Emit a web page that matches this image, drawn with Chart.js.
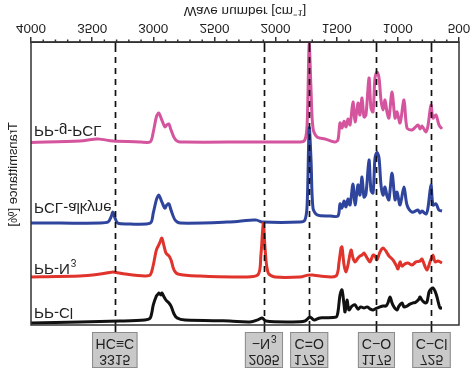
<!DOCTYPE html>
<html>
<head>
<meta charset="utf-8">
<script src="https://cdn.jsdelivr.net/npm/chart.js@4.4.1/dist/chart.umd.min.js"></script>
<style>
html, body { margin: 0; padding: 0; background: #fff; }
/* the reference picture is mirrored top to bottom */
#chart { display: block; transform: scaleY(-1); }
</style>
</head>
<body>
<canvas id="chart" width="474" height="372"></canvas>
<script>
// [wave number, transmittance + offset]
const ppCl = [
  [4000,99.3],[3600,98.9],[3275,98.6],[3070,98.2],[3025,97.5],[3000,92.9],[2975,89.8],[2960,89.0],
  [2953,88.7],[2937,89.4],[2929,88.7],[2912,90.1],[2896,91.2],[2872,92.2],[2855,93.3],[2830,96.1],
  [2806,97.5],[2740,98.2],[2375,98.6],[2210,98.9],[2145,98.2],[2110,97.5],[2078,98.6],[1882,98.9],
  [1760,98.6],[1720,97.2],[1685,98.2],[1637,97.5],[1506,97.2],[1490,95.4],[1473,89.4],[1457,87.6],
  [1440,92.9],[1432,95.4],[1416,91.2],[1400,94.7],[1375,93.3],[1350,92.9],[1326,94.4],[1302,93.6],
  [1277,94.0],[1252,93.6],[1228,94.3],[1203,94.7],[1171,94.0],[1146,93.6],[1121,93.3],[1097,93.3],
  [1081,92.2],[1064,90.1],[1048,92.2],[1032,93.6],[1007,94.7],[991,93.3],[966,92.2],[950,93.6],
  [925,93.3],[901,92.6],[876,92.2],[852,91.9],[827,90.8],[819,90.1],[803,91.2],[778,92.2],
  [762,91.9],[745,88.3],[729,87.3],[713,86.9],[696,88.0],[680,90.1],[664,92.9],[655,94.0],[639,94.0]
];
const ppN3 = [
  [4000,83.0],[3600,82.7],[3435,82.0],[3330,81.3],[3230,82.0],[3070,82.7],[3025,82.3],[3000,78.8],
  [2975,73.5],[2960,72.1],[2945,70.7],[2930,69.3],[2912,72.1],[2896,74.6],[2872,75.6],[2855,77.0],
  [2830,80.6],[2798,82.0],[2620,82.7],[2290,83.0],[2145,82.3],[2120,75.3],[2100,64.0],[2085,73.5],
  [2060,81.6],[2005,83.0],[1800,83.0],[1720,82.3],[1637,82.7],[1506,82.7],[1481,77.7],[1465,72.8],
  [1457,72.4],[1440,78.8],[1424,81.3],[1408,78.8],[1383,73.5],[1367,76.3],[1350,77.7],[1326,76.3],
  [1310,75.6],[1293,75.3],[1277,74.6],[1252,76.3],[1228,77.7],[1203,75.3],[1187,75.6],[1171,77.0],
  [1146,74.2],[1121,72.8],[1097,73.9],[1073,75.6],[1040,77.0],[1015,78.8],[999,80.2],[982,77.7],
  [966,79.2],[942,78.4],[917,78.1],[884,78.8],[852,77.7],[819,77.4],[803,76.7],[786,78.4],
  [762,80.6],[737,77.7],[713,75.3],[696,77.7],[672,77.4],[639,78.1]
];
const pclAlkyne = [
  [4000,64.0],[3760,64.0],[3435,64.0],[3370,63.6],[3345,61.8],[3330,60.1],[3313,62.2],[3290,64.0],
  [3205,64.3],[3025,64.0],[3000,60.4],[2975,55.8],[2955,54.1],[2930,56.5],[2905,58.7],[2890,57.6],
  [2872,57.2],[2855,59.4],[2822,62.9],[2780,64.0],[2375,63.6],[2160,62.9],[2110,63.6],[1800,63.6],
  [1760,62.9],[1742,57.6],[1725,30.4],[1710,41.7],[1694,58.7],[1660,61.1],[1555,61.5],[1490,61.5],
  [1473,57.2],[1457,58.7],[1440,56.2],[1424,58.3],[1408,55.5],[1391,57.6],[1367,50.2],[1350,57.6],
  [1326,50.5],[1310,54.1],[1293,47.7],[1277,54.8],[1261,53.7],[1236,41.7],[1220,52.3],[1203,53.4],
  [1187,41.0],[1171,38.9],[1154,41.0],[1138,50.5],[1121,54.1],[1105,51.2],[1089,54.4],[1073,55.8],
  [1048,46.3],[1023,55.8],[1007,53.0],[982,57.6],[950,51.2],[925,57.6],[884,60.1],[835,59.4],
  [819,60.4],[803,59.7],[770,60.8],[754,58.7],[729,50.5],[713,57.6],[688,57.2],[664,59.4],[639,59.7]
];
const ppGPcl = [
  [4000,35.5],[3600,35.0],[3450,34.3],[3330,35.0],[3110,35.3],[3025,35.3],[3000,31.8],[2975,26.5],
  [2955,25.1],[2930,27.6],[2905,30.0],[2890,29.3],[2872,29.0],[2855,31.1],[2822,34.3],[2780,35.3],
  [2210,35.3],[1800,35.3],[1760,34.6],[1742,29.3],[1725,0.7],[1710,17.0],[1694,30.4],[1660,33.6],
  [1596,34.3],[1515,35.3],[1490,34.6],[1473,28.6],[1457,30.4],[1440,28.0],[1424,30.0],[1408,27.2],
  [1391,29.3],[1367,21.2],[1350,28.3],[1326,21.6],[1310,25.8],[1293,19.8],[1277,26.5],[1261,25.8],
  [1236,12.7],[1220,23.3],[1203,24.7],[1187,12.7],[1171,10.6],[1154,12.7],[1138,20.5],[1121,24.0],
  [1105,20.5],[1089,24.7],[1073,26.9],[1048,17.7],[1023,26.9],[1007,24.7],[982,28.6],[950,20.5],
  [925,30.4],[884,31.1],[835,29.3],[819,30.7],[803,29.7],[770,31.8],[754,29.7],[729,22.3],
  [713,26.9],[688,25.8],[664,29.3],[639,30.7]
];

const seriesNames = ['PP-Cl', 'PP-N', 'PCL-alkyne', 'PP-g-PCL'];
const seriesSubs = ['', '3', '', ''];
const seriesColors = ['#111111', '#e0332b', '#2f449c', '#d4549d'];
const seriesLabelAt = [95.4, 79.9, 58.3, 31.1];

const bandWaves = [3315, 2095, 1725, 1175, 725];
const bandGroups = ['HC\u2261C', '\u2212N', 'C=O', 'C\u2212O', 'C\u2212Cl'];
const bandSubs = ['', '3', '', '', ''];

const xTicks = [4000, 3500, 3000, 2500, 2000, 1500, 1000, 500];

Chart.defaults.font.family = "Arial, 'Liberation Sans', Helvetica, sans-serif";
Chart.defaults.color = '#222';

function toPoints(arr) {
  return arr.map(p => ({x: p[0], y: p[1]}));
}

const decor = {
  id: 'decor',
  afterDatasetsDraw(chart) {
    const ctx = chart.ctx;
    const area = chart.chartArea;
    const xs = chart.scales.x;
    const ys = chart.scales.y;
    ctx.save();

    // dashed marker lines
    ctx.strokeStyle = '#111';
    ctx.lineWidth = 1.7;
    bandWaves.forEach(w => {
      const px = Math.round(xs.getPixelForValue(w)) + 0.5;
      ctx.setLineDash([]);
      ctx.beginPath();
      ctx.moveTo(px, area.bottom);
      ctx.lineTo(px, area.bottom - 10);
      ctx.moveTo(px, area.top);
      ctx.lineTo(px, area.top - 7);
      ctx.stroke();
      ctx.setLineDash([6, 5]);
      ctx.beginPath();
      ctx.moveTo(px, area.bottom - 15);
      ctx.lineTo(px, area.top);
      ctx.stroke();
    });
    ctx.setLineDash([]);

    // label boxes above the plot
    const big = "14px Arial, 'Liberation Sans', sans-serif";
    const small = "10px Arial, 'Liberation Sans', sans-serif";
    ctx.font = big;
    ctx.textBaseline = 'middle';
    bandWaves.forEach((w, i) => {
      const px = xs.getPixelForValue(w);
      const num = String(w);
      const baseW = ctx.measureText(bandGroups[i]).width;
      const grpW = baseW + (bandSubs[i] ? 6 : 0);
      const bw = Math.max(grpW, ctx.measureText(num).width) + 7;
      const top = area.top - 43, bh = 36;
      ctx.fillStyle = '#c9c9c9';
      ctx.fillRect(px - bw / 2, top, bw, bh);
      ctx.strokeStyle = '#8c8c8c';
      ctx.lineWidth = 1;
      ctx.strokeRect(px - bw / 2 + 0.5, top + 0.5, bw - 1, bh - 1);
      ctx.fillStyle = '#222';
      ctx.textAlign = 'center';
      ctx.fillText(num, px, top + 9);
      if (bandSubs[i]) {
        ctx.textAlign = 'left';
        const gx = px - grpW / 2;
        ctx.fillText(bandGroups[i], gx, top + 25);
        ctx.font = small;
        ctx.fillText(bandSubs[i], gx + baseW + 1, top + 30);
        ctx.font = big;
      } else {
        ctx.fillText(bandGroups[i], px, top + 25);
      }
    });

    // series names
    ctx.textAlign = 'left';
    seriesNames.forEach((name, i) => {
      const py = ys.getPixelForValue(seriesLabelAt[i]);
      ctx.font = "15px Arial, 'Liberation Sans', sans-serif";
      ctx.fillStyle = '#222';
      ctx.fillText(name, area.left + 3, py);
      if (seriesSubs[i]) {
        const tw = ctx.measureText(name).width;
        ctx.font = small;
        ctx.fillText(seriesSubs[i], area.left + 4 + tw, py + 6);
      }
    });

    // y title
    ctx.font = "13px Arial, 'Liberation Sans', sans-serif";
    ctx.textAlign = 'center';
    ctx.translate(13, (area.top + area.bottom) / 2 + 9);
    ctx.rotate(-Math.PI / 2);
    ctx.fillText('Transmittance [%]', 0, 0);
    ctx.restore();
  },
  afterDraw(chart) {
    const ctx = chart.ctx;
    const area = chart.chartArea;
    const xs = chart.scales.x;
    ctx.save();
    ctx.strokeStyle = '#333';
    ctx.lineWidth = 1.5;
    ctx.strokeRect(area.left, area.top, area.right - area.left, area.bottom - area.top);
    // minor ticks every 100
    for (let w = 600; w < 4000; w += 100) {
      if (w % 500 === 0) continue;
      const px = xs.getPixelForValue(w);
      ctx.beginPath();
      ctx.moveTo(px, area.bottom);
      ctx.lineTo(px, area.bottom + 2.5);
      ctx.stroke();
    }
    ctx.restore();
  }
};

const data = [ppCl, ppN3, pclAlkyne, ppGPcl];

new Chart(document.getElementById('chart'), {
  type: 'line',
  data: {
    datasets: data.map((d, i) => ({
      label: seriesNames[i] + seriesSubs[i],
      data: toPoints(d),
      borderColor: seriesColors[i],
      borderWidth: 3,
      pointRadius: 0,
      tension: 0.3,
      fill: false
    }))
  },
  options: {
    responsive: false,
    devicePixelRatio: 1,
    animation: false,
    layout: { padding: { top: 47, left: 31, right: 15, bottom: 0 } },
    plugins: { legend: { display: false }, tooltip: { enabled: false } },
    scales: {
      x: {
        type: 'linear',
        reverse: true,
        min: 500,
        max: 4000,
        afterFit: s => { s.height = 42; },
        afterBuildTicks: s => { s.ticks = xTicks.map(v => ({value: v})); },
        ticks: {
          font: { size: 13.5 }, padding: 1, maxRotation: 0, autoSkip: false, color: '#222',
          callback: v => String(v)
        },
        grid: { drawOnChartArea: false, tickLength: 5, color: '#333', lineWidth: 1.5 },
        border: { display: true, color: '#333', width: 1.5 },
        title: { display: true, text: 'Wave number [cm\u207B\u00B9]', font: { size: 13.5 }, padding: { top: 0, bottom: 3 }, color: '#222' }
      },
      y: {
        display: false,
        min: 0,
        max: 100
      }
    }
  },
  plugins: [decor]
});
</script>
</body>
</html>
